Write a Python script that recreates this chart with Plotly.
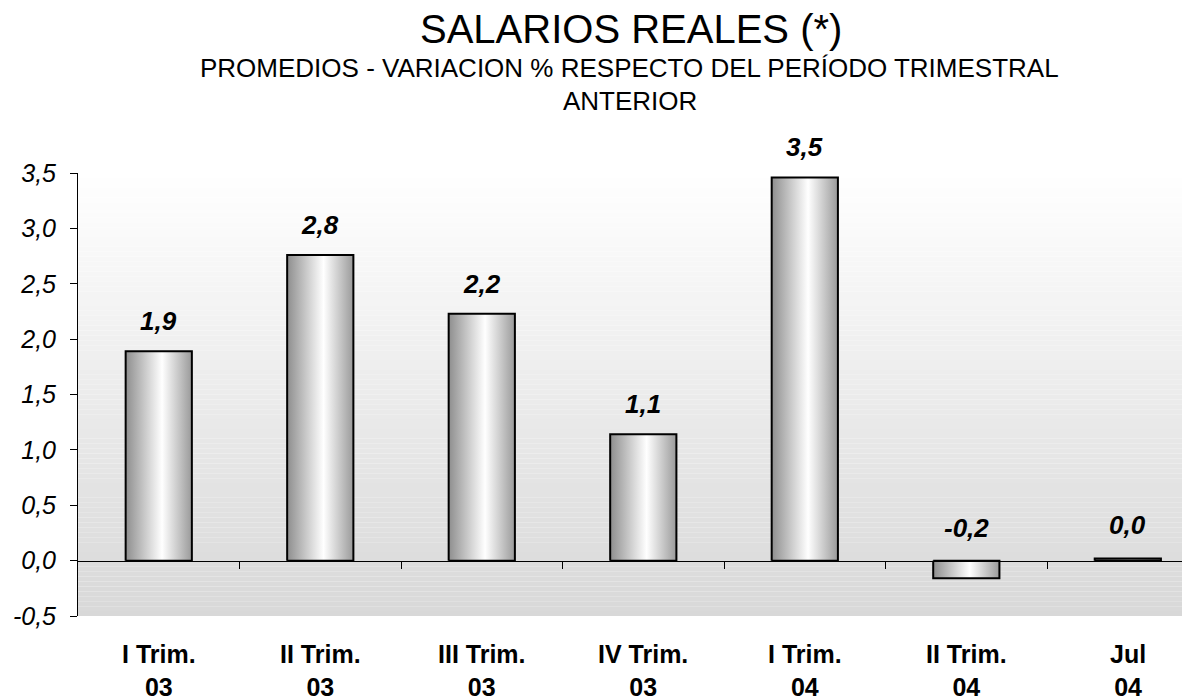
import plotly.graph_objects as go

# data
periods = ["I Trim.<br>03", "II Trim.<br>03", "III Trim.<br>03", "IV Trim.<br>03",
           "I Trim.<br>04", "II Trim.<br>04", "Jul<br>04"]
variacion = [1.89, 2.76, 2.23, 1.14, 3.46, -0.16, 0.02]
ytick_vals = [-0.5, 0.0, 0.5, 1.0, 1.5, 2.0, 2.5, 3.0, 3.5]
ytick_text = ["-0,5", "0,0", "0,5", "1,0", "1,5", "2,0", "2,5", "3,0", "3,5"]

FONT = "Arial, 'Liberation Sans', sans-serif"
bar_w = 0.41
y_min, y_max = -0.5, 3.5

fig = go.Figure()

# cylinder-like bars: filled polygons with a horizontal gradient
for i, v in enumerate(variacion):
    x0, x1 = i - bar_w / 2, i + bar_w / 2
    fig.add_trace(go.Scatter(
        x=[x0, x1, x1, x0, x0],
        y=[0, 0, v, v, 0],
        mode="lines",
        fill="toself",
        fillgradient=dict(type="horizontal",
                          colorscale=[[0, "#8e8e8e"], [0.55, "#ffffff"], [1, "#9a9a9a"]]),
        line=dict(color="black", width=2),
        hoverinfo="skip",
        showlegend=False,
    ))

# value labels above the bars
annotations = []
for i, v in enumerate(variacion):
    label = f"{v:.1f}".replace(".", ",")
    annotations.append(dict(
        x=i, y=max(v, 0), xref="x", yref="y",
        text=label, showarrow=False, yanchor="bottom",
        yshift=13 if v > 0.05 else 16,
        font=dict(family=FONT, size=26, color="black", weight="bold", style="italic"),
    ))

# category labels under the plot area
for i, p in enumerate(periods):
    annotations.append(dict(
        x=i, y=0, xref="x", yref="paper",
        text=p, showarrow=False, yanchor="top", yshift=-22,
        font=dict(family=FONT, size=25, color="black", weight="bold"),
    ))

# titles
annotations += [
    dict(x=0.497, y=1.326, xref="paper", yref="paper", text="SALARIOS REALES (*)",
         showarrow=False, yanchor="middle",
         font=dict(family=FONT, size=40, color="black")),
    dict(x=0.496, y=1.237, xref="paper", yref="paper",
         text="PROMEDIOS - VARIACION % RESPECTO DEL PERÍODO TRIMESTRAL",
         showarrow=False, yanchor="middle",
         font=dict(family=FONT, size=26, color="black")),
    dict(x=0.496, y=1.1625, xref="paper", yref="paper", text="ANTERIOR",
         showarrow=False, yanchor="middle",
         font=dict(family=FONT, size=26, color="black")),
]

# plot area background: white at top fading to light gray
shapes = []
n = 90
for k in range(n):
    t = (k + 0.5) / n
    g = round(216 + (255 - 216) * t)
    shapes.append(dict(
        type="rect", xref="x domain", yref="y domain",
        x0=0, x1=1, y0=k / n, y1=(k + 1) / n,
        fillcolor=f"rgb({g},{g},{g})", line=dict(width=0), layer="below",
    ))

# page body has an 8px margin, so the figure is 8px smaller each way
fig.update_layout(
    width=1182, height=692,
    margin=dict(l=70, r=0, t=165, b=84),
    paper_bgcolor="white",
    plot_bgcolor="rgba(0,0,0,0)",
    showlegend=False,
    annotations=annotations,
    shapes=shapes,
    xaxis=dict(
        range=[-0.5, 6.385],
        tickvals=[i + 0.5 for i in range(len(periods) - 1)],
        showticklabels=False,
        ticks="outside", ticklen=7, tickcolor="black", tickwidth=1,
        showline=True, linecolor="black", linewidth=1,
        showgrid=False, zeroline=False,
        anchor="free", position=(0 - y_min) / (y_max - y_min),
        fixedrange=True,
    ),
    yaxis=dict(
        range=[y_min, y_max],
        tickvals=ytick_vals, ticktext=ytick_text,
        ticks="outside", ticklen=7, tickcolor="black", tickwidth=1,
        showline=True, linecolor="black", linewidth=1,
        showgrid=False, zeroline=False,
        ticklabelstandoff=9,
        tickfont=dict(family=FONT, size=25, color="black", style="italic"),
        fixedrange=True,
    ),
)

fig.write_html("out.html")
